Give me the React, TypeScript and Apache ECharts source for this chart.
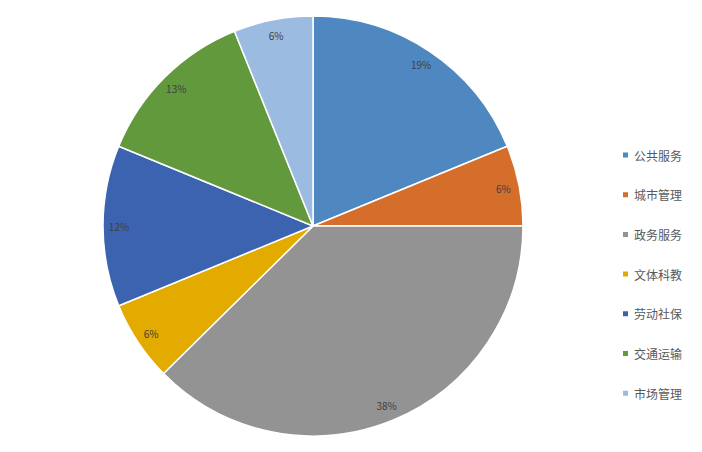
import React, { useEffect, useRef } from "react";
import * as echarts from "echarts";

const categories = ["公共服务", "城市管理", "政务服务", "文体科教", "劳动社保", "交通运输", "市场管理"];
const values = [18.8, 6.2, 37.6, 6.2, 12.4, 12.7, 6.1];
const colors = ["#4F88C0", "#D46E2A", "#939393", "#E3AA00", "#3C63AF", "#62993D", "#9BBBE1"];

export default function App() {
  const ref = useRef<HTMLDivElement>(null);
  useEffect(() => {
    if (!ref.current) return;
    const chart = echarts.init(ref.current, undefined, { renderer: "svg" });
    const data = categories.map((name, i) => ({ name, value: values[i], itemStyle: { color: colors[i] } }));
    chart.setOption({
      animation: false,
      backgroundColor: "#ffffff",
      legend: {
        orient: "vertical",
        left: 616,
        top: 144,
        itemWidth: 7,
        itemHeight: 7,
        itemGap: 27.7,
        icon: "rect",
        textStyle: { color: "#595959", fontSize: 12, fontFamily: "Noto Sans CJK SC" },
        data: categories,
      },
      series: [
        {
          type: "pie",
          center: [313, 226],
          radius: [0, 210],
          startAngle: 90,
          clockwise: true,
          label: { show: false },
          labelLine: { show: false },
          itemStyle: { borderColor: "#ffffff", borderWidth: 1.5 },
          data,
        },
        {
          type: "pie",
          center: [313, 226],
          radius: [172, 210],
          startAngle: 90,
          clockwise: true,
          silent: true,
          legendHoverLink: false,
          label: {
            show: true,
            position: "inside",
            color: "#404040",
            fontSize: 10,
            fontFamily: "Noto Sans CJK SC",
            formatter: (p: any) => Math.round(p.percent) + "%",
          },
          labelLine: { show: false },
          itemStyle: { color: "rgba(0,0,0,0)" },
          data: categories.map((name, i) => ({ name: name + " ", value: values[i] })),
        },
      ],
    });
    return () => chart.dispose();
  }, []);
  return <div ref={ref} style={{ position: "absolute", left: 0, top: 0, width: 702, height: 452 }} />;
}
